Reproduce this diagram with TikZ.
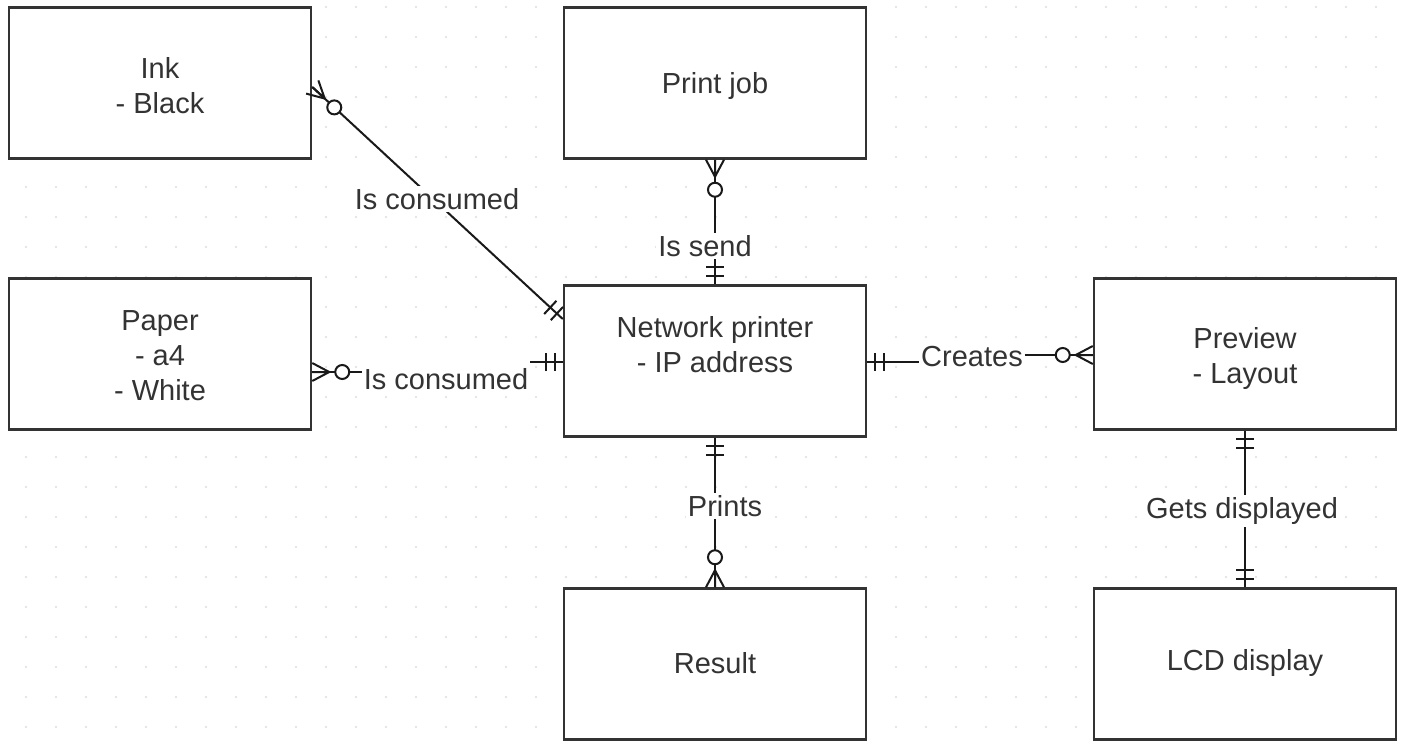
\documentclass[tikz,border=0pt]{standalone}
\usepackage{fontspec}
\setmainfont{Liberation Sans}
\usetikzlibrary{calc}
\tikzset{
  entity/.style={draw=black!80, line width=2.5pt, fill=white, minimum width=302pt, minimum height=151pt, inner sep=0pt},
  etext/.style={text=black!80, font=\fontsize{29}{35}\selectfont, align=center},
  conn/.style={draw=black!90, line width=2pt},
  rlabel/.style={fill=white, text=black!80, font=\fontsize{29}{35}\selectfont, inner sep=2pt},
}
% mandatory one: two bars near end #1, line towards #2
\newcommand{\erone}[2]{%
  \path ($(#1)!8pt!(#2)$) coordinate (tmpA) ($(#1)!17pt!(#2)$) coordinate (tmpB);
  \draw[conn] ($(tmpA)!9pt!90:(#2)$) -- ($(tmpA)!9pt!-90:(#2)$);
  \draw[conn] ($(tmpB)!9pt!90:(#2)$) -- ($(tmpB)!9pt!-90:(#2)$);
}
% zero or many: crow's foot plus circle at end #1, line towards #2
\newcommand{\erzmany}[2]{%
  \path ($(#1)!17pt!(#2)$) coordinate (tmpA) ($(#1)!30pt!(#2)$) coordinate (tmpC);
  \draw[conn] ($(#1)!9pt!90:(#2)$) -- (tmpA) -- ($(#1)!9pt!-90:(#2)$) (#1) -- (tmpA);
  \draw[conn, fill=white] (tmpC) circle (7pt);
}
\begin{document}
\begin{tikzpicture}[x=1pt,y=-1pt]
\useasboundingbox (0,0) rectangle (1402,749);
\fill[white] (0,0) rectangle (1402,749);
\foreach \i in {0,...,46} \foreach \j in {0,...,24} \fill[black!13] (26+30*\i, 7+30*\j) circle (1.1pt);

% entities
\node[entity] (ink)   at (160,83)  {};
\node[etext]  (inkt)  at (160,86)  {Ink\\- Black};
\node[entity] (pj)    at (715,83)  {};
\node[etext]  (pjt)   at (715,86)  {Print job};
\node[entity] (paper) at (160,354) {};
\node[etext]  (papert) at (160,356) {Paper\\- a4\\- White};
\node[entity] (np)    at (715,361) {};
\node[etext]  (npt)   at (715,345) {Network printer\\- IP address};
\node[entity] (pv)    at (1245,354) {};
\node[etext]  (pvt)   at (1245,358) {Preview\\- Layout};
\node[entity] (res)   at (715,664) {};
\node[etext]  (rest)  at (715,663) {Result};
\node[entity] (lcd)   at (1245,664) {};
\node[etext]  (lcdt)  at (1245,663) {LCD display};

% Ink -- Network printer
\coordinate (c1a) at ($(ink.east)+(0,4)$);
\coordinate (c1b) at ($(np.west)+(0,-42)$);
\draw[conn] (c1a) -- (c1b);
\erzmany{c1a}{c1b}
\erone{c1b}{c1a}
\node[rlabel] (l1) at (437,199) {Is consumed};

% Print job -- Network printer
\draw[conn] (pj.south) -- (np.north);
\erzmany{pj.south}{np.north}
\erone{np.north}{pj.south}
\node[rlabel] (l2) at (705,246) {Is send};

% Paper -- Network printer
\node[rlabel] (l3) at (446,379) {Is consumed};
\coordinate (c3a) at ($(paper.east)+(0,18)$);
\coordinate (c3ad) at ($(c3a)+(60,0)$);
\coordinate (c3b) at ($(np.west)+(0,1)$);
\coordinate (c3bd) at ($(c3b)+(-60,0)$);
\draw[conn] (c3a) -- (c3a -| l3.west);
\draw[conn] (c3b -| l3.east) -- (c3b);
\erzmany{c3a}{c3ad}
\erone{c3b}{c3bd}

% Network printer -- Preview
\node[rlabel] (l4) at (972,357) {Creates};
\coordinate (c4a) at ($(np.east)+(0,1)$);
\coordinate (c4ad) at ($(c4a)+(60,0)$);
\coordinate (c4b) at ($(pv.west)+(0,1)$);
\coordinate (c4bd) at ($(c4b)+(-60,0)$);
\draw[conn] (c4a) -- (c4a -| l4.west);
\draw[conn] (c4b -| l4.east) -- (c4b);
\erone{c4a}{c4ad}
\erzmany{c4b}{c4bd}

% Network printer -- Result
\draw[conn] (np.south) -- (res.north);
\erone{np.south}{res.north}
\erzmany{res.north}{np.south}
\node[rlabel] (l5) at (725,506) {Prints};

% Preview -- LCD display
\draw[conn] (pv.south) -- (lcd.north);
\erone{pv.south}{lcd.north}
\erone{lcd.north}{pv.south}
\node[rlabel] (l6) at (1242,511) {Gets displayed};
\end{tikzpicture}
\end{document}
